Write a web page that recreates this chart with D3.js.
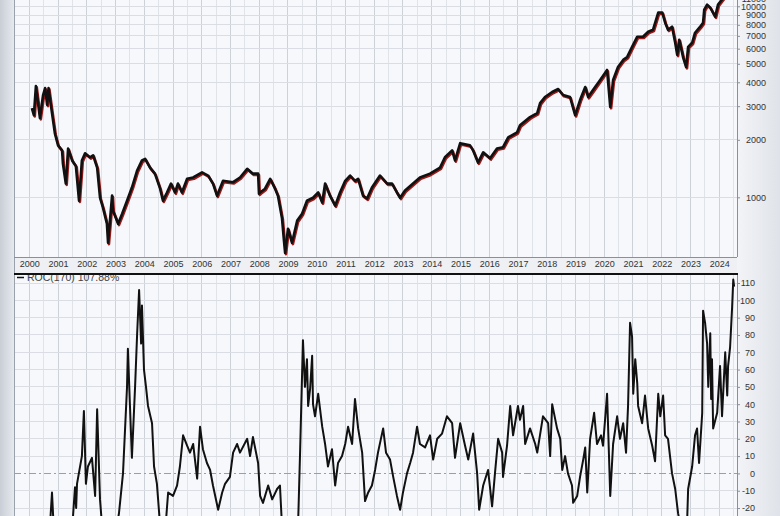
<!DOCTYPE html>
<html><head><meta charset="utf-8">
<script src="https://cdn.jsdelivr.net/npm/d3@7"></script>
<style>html,body{margin:0;padding:0;background:#fff;}svg{display:block;font-family:Arial,"Liberation Sans",sans-serif;}</style>
</head><body><svg id="c" width="780" height="516"></svg>
<script>
// ---- data ----
const priceDates = [2000.09,2000.16,2000.23,2000.37,2000.48,2000.55,2000.62,2000.67,2000.79,2000.89,2001.00,2001.14,2001.17,2001.27,2001.35,2001.49,2001.62,2001.73,2001.83,2001.94,2002.11,2002.22,2002.36,2002.46,2002.56,2002.70,2002.74,2002.88,2002.91,2003.09,2003.23,2003.40,2003.57,2003.75,2003.92,2004.03,2004.20,2004.37,2004.55,2004.65,2004.79,2004.93,2005.07,2005.17,2005.31,2005.49,2005.70,2006.01,2006.22,2006.39,2006.53,2006.74,2007.09,2007.33,2007.58,2007.78,2007.96,2007.99,2008.03,2008.20,2008.38,2008.55,2008.65,2008.79,2008.86,2008.90,2009.00,2009.14,2009.32,2009.49,2009.66,2009.87,2010.05,2010.19,2010.29,2010.46,2010.64,2010.81,2010.99,2011.16,2011.33,2011.44,2011.61,2011.75,2011.92,2012.20,2012.45,2012.62,2012.79,2012.90,2013.07,2013.35,2013.59,2013.94,2014.29,2014.46,2014.71,2014.81,2014.99,2015.33,2015.44,2015.61,2015.79,2016.03,2016.27,2016.48,2016.66,2016.97,2017.07,2017.42,2017.67,2017.77,2017.94,2018.19,2018.40,2018.57,2018.81,2018.92,2018.99,2019.16,2019.34,2019.44,2019.61,2019.86,2020.10,2020.21,2020.31,2020.48,2020.66,2020.80,2020.97,2021.15,2021.35,2021.53,2021.70,2021.88,2022.02,2022.12,2022.22,2022.36,2022.47,2022.54,2022.61,2022.75,2022.85,2022.92,2023.06,2023.16,2023.34,2023.44,2023.48,2023.58,2023.69,2023.86,2023.96,2024.10,2024.31,2024.49];
const priceValues = [2930,2690,3820,2600,3430,3730,3050,3730,2760,2160,1870,1760,1500,1180,1800,1560,1460,960,1560,1700,1620,1660,1430,995,885,727,578,1020,850,727,820,960,1125,1380,1560,1590,1430,1330,1110,960,1060,1180,1060,1180,1060,1250,1270,1350,1300,1180,1020,1220,1200,1270,1410,1330,1330,1045,1060,1110,1250,1110,1020,780,592,512,685,578,755,820,960,995,1060,940,1180,1020,905,1060,1220,1300,1220,1250,1020,985,1125,1300,1180,1180,1060,995,1085,1180,1270,1330,1430,1620,1760,1560,1920,1870,1760,1520,1720,1600,1800,1830,2060,2190,2380,2630,2760,3110,3350,3560,3690,3430,3350,2930,2690,3230,3780,3350,3640,4110,4640,2970,4110,4810,5240,5430,6130,6930,6930,7360,7540,9270,9270,8210,7540,7820,6440,5570,6680,5370,4810,6130,6440,7270,7820,8210,9610,10200,9840,8830,10200,10850,12000,13500];

const rocDates = [2000.72,2000.79,2000.86,2001.52,2001.59,2001.63,2001.66,2001.83,2001.90,2001.97,2002.04,2002.18,2002.29,2002.36,2002.46,2002.53,2002.81,2003.05,2003.12,2003.26,2003.40,2003.43,2003.50,2003.57,2003.68,2003.75,2003.82,2003.89,2003.92,2003.99,2004.06,2004.13,2004.27,2004.34,2004.44,2004.55,2004.72,2004.83,2005.00,2005.14,2005.24,2005.35,2005.49,2005.59,2005.70,2005.84,2005.94,2006.04,2006.18,2006.29,2006.39,2006.57,2006.71,2006.81,2006.98,2007.09,2007.23,2007.33,2007.58,2007.68,2007.78,2007.96,2008.03,2008.13,2008.31,2008.45,2008.62,2008.72,2008.79,2009.07,2009.35,2009.42,2009.52,2009.59,2009.66,2009.70,2009.77,2009.84,2009.87,2009.94,2010.05,2010.19,2010.29,2010.39,2010.53,2010.64,2010.74,2010.88,2010.99,2011.09,2011.23,2011.33,2011.44,2011.58,2011.68,2011.79,2011.92,2012.03,2012.13,2012.31,2012.41,2012.55,2012.66,2012.79,2012.90,2013.00,2013.14,2013.25,2013.35,2013.49,2013.59,2013.77,2013.94,2014.05,2014.19,2014.36,2014.53,2014.71,2014.81,2014.99,2015.16,2015.27,2015.44,2015.58,2015.65,2015.79,2015.96,2016.10,2016.20,2016.31,2016.45,2016.48,2016.62,2016.73,2016.83,2017.00,2017.07,2017.18,2017.25,2017.42,2017.60,2017.67,2017.87,2018.05,2018.12,2018.19,2018.36,2018.47,2018.54,2018.64,2018.74,2018.88,2018.92,2019.06,2019.16,2019.27,2019.34,2019.41,2019.51,2019.65,2019.75,2019.89,2019.96,2020.10,2020.21,2020.31,2020.45,2020.55,2020.66,2020.76,2020.83,2020.90,2020.97,2021.01,2021.08,2021.15,2021.18,2021.32,2021.42,2021.53,2021.67,2021.77,2021.88,2021.95,2022.05,2022.12,2022.22,2022.36,2022.47,2022.57,2022.71,2022.89,2022.92,2023.06,2023.16,2023.23,2023.30,2023.41,2023.44,2023.51,2023.58,2023.62,2023.69,2023.72,2023.75,2023.79,2023.93,2024.03,2024.10,2024.21,2024.28,2024.31,2024.38,2024.45,2024.49,2024.52];
const rocValues = [-30,-11,-35,-25,-8,-20,-6,10,36,-6,4,9,-13,37,-15,-30,-40,-30,-23,0,50,72,40,9,50,80,106,75,97,60,50,39,29,4,-6,-30,-35,-11,-13,-7,4,22,16,12,17,-3,27,14,6,2,-7,-21,-11,-6,-2,12,17,12,20,10,21,6,-13,-17,-7,-15,-9,-7,-30,-45,-30,12,77,50,66,39,49,68,40,33,46,27,17,4,14,-7,6,10,17,27,17,43,26,12,-16,-11,-7,2,12,26,12,8,-2,-13,-21,-11,0,6,12,27,17,15,22,8,20,23,33,29,9,29,16,8,23,0,-21,-7,2,-19,0,20,12,-2,16,39,22,39,31,39,17,26,17,12,33,29,10,40,26,20,2,10,0,-7,-17,-13,-2,8,15,-11,20,35,17,22,16,46,-13,17,33,20,29,12,39,87,79,46,66,52,39,29,45,26,16,7,46,33,45,22,20,0,-9,-23,-35,-25,-9,4,22,26,6,35,94,87,75,50,81,43,66,26,35,62,33,70,45,62,73,96,112,107.88];

const yearTicks = [2000,2001,2002,2003,2004,2005,2006,2007,2008,2009,2010,2011,2012,2013,2014,2015,2016,2017,2018,2019,2020,2021,2022,2023,2024];
const priceTicks = [1000,2000,3000,4000,5000,6000,7000,8000,9000,10000,11000];
const rocTicks = [-30,-20,-10,0,10,20,30,40,50,60,70,80,90,100,110];
const rocLabel = "ROC(170) 107.88%";

// ---- layout ----
const W = 780, H = 516;
const L = 14, R = 737;
const topY0 = 0, topY1 = 257;
const botY0 = 274, botY1 = 516;
const FONT = "Arial, Liberation Sans, sans-serif";

const svg = d3.select("#c");
const x = d3.scaleLinear().domain([1999.468, 2024.62]).range([L, R]);
const yP = d3.scaleLog().domain([487, 10786]).range([topY1, topY0]);
const yR = d3.scaleLinear().domain([-24.6, 115.2]).range([botY1, botY0]);

// backgrounds
const defs = svg.append("defs");
const lg = defs.append("linearGradient").attr("id","lstrip").attr("x1",0).attr("x2",1);
lg.append("stop").attr("offset",0).attr("stop-color","#c9ced6");
lg.append("stop").attr("offset",1).attr("stop-color","#e6e9ee");
const rg = defs.append("linearGradient").attr("id","rstrip").attr("x1",0).attr("x2",1);
rg.append("stop").attr("offset",0).attr("stop-color","#f3f4f7");
rg.append("stop").attr("offset",1).attr("stop-color","#dfe3e9");
defs.append("clipPath").attr("id","clipTop").append("rect").attr("x",L).attr("y",topY0-20).attr("width",R-L).attr("height",topY1-topY0+20);
defs.append("clipPath").attr("id","clipBot").append("rect").attr("x",L).attr("y",botY0).attr("width",R-L).attr("height",botY1-botY0+20);

svg.append("rect").attr("width",W).attr("height",H).attr("fill","#eef0f4");
svg.append("rect").attr("x",0).attr("y",0).attr("width",L).attr("height",H).attr("fill","url(#lstrip)");
svg.append("rect").attr("x",R).attr("y",0).attr("width",W-R).attr("height",H).attr("fill","url(#rstrip)");
svg.append("rect").attr("x",L).attr("y",topY0-5).attr("width",R-L).attr("height",topY1-topY0+5).attr("fill","#f6f8fb");
svg.append("rect").attr("x",L).attr("y",botY0).attr("width",R-L).attr("height",botY1-botY0+10).attr("fill","#f6f8fb");

// vertical grid (years + mid years)
function vgrid(y0, y1){
  const g = svg.append("g");
  yearTicks.forEach(yr => {
    g.append("line").attr("x1",x(yr)).attr("x2",x(yr)).attr("y1",y0).attr("y2",y1)
      .attr("stroke","#cdd1d8").attr("stroke-width",1).attr("shape-rendering","crispEdges");
    g.append("line").attr("x1",x(yr+0.5)).attr("x2",x(yr+0.5)).attr("y1",y0).attr("y2",y1)
      .attr("stroke","#e0e3e8").attr("stroke-width",1).attr("shape-rendering","crispEdges");
  });
  g.append("line").attr("x1",x(1999.5)).attr("x2",x(1999.5)).attr("y1",y0).attr("y2",y1)
      .attr("stroke","#e0e3e8").attr("shape-rendering","crispEdges");
}
vgrid(topY0, topY1);
vgrid(botY0, botY1);

// horizontal grid top
priceTicks.forEach(p => {
  svg.append("line").attr("x1",L).attr("x2",R).attr("y1",yP(p)).attr("y2",yP(p))
    .attr("stroke","#dadde3").attr("shape-rendering","crispEdges");
});
// horizontal grid bottom
rocTicks.forEach(v => {
  if (v === 0) return;
  svg.append("line").attr("x1",L).attr("x2",R).attr("y1",yR(v)).attr("y2",yR(v))
    .attr("stroke","#dadde3").attr("shape-rendering","crispEdges");
});
svg.append("line").attr("x1",L).attr("x2",R).attr("y1",yR(0)).attr("y2",yR(0))
  .attr("stroke","#9a9ea6").attr("stroke-dasharray","7,3,2,3").attr("shape-rendering","crispEdges");

// price series
const pdata = priceDates.map((d,i)=>[d, priceValues[i]]);
const pline = d3.line().x(d=>x(d[0])).y(d=>yP(d[1]));
const gTop = svg.append("g").attr("clip-path","url(#clipTop)");
gTop.append("path").datum(pdata).attr("d",pline).attr("fill","none")
  .attr("stroke","#a01818").attr("stroke-width",2.6).attr("transform","translate(0.9,1.3)").attr("stroke-linejoin","round");
gTop.append("path").datum(pdata).attr("d",pline).attr("fill","none")
  .attr("stroke","#111").attr("stroke-width",2.6).attr("stroke-linejoin","round");

// roc series
const rdata = rocDates.map((d,i)=>[d, rocValues[i]]);
const rline = d3.line().x(d=>x(d[0])).y(d=>yR(d[1]));
svg.append("g").attr("clip-path","url(#clipBot)").append("path").datum(rdata).attr("d",rline)
  .attr("fill","none").attr("stroke","#111").attr("stroke-width",2).attr("stroke-linejoin","round");

// legend (top is partly hidden by the panel's top border, as in the reference)
svg.append("line").attr("x1",17).attr("x2",24).attr("y1",277.5).attr("y2",277.5).attr("stroke","#111").attr("stroke-width",1.5);
svg.append("text").attr("x",27).attr("y",281).attr("font-size",10.5).attr("fill","#444").attr("font-family",FONT).text(rocLabel);

// borders
svg.append("line").attr("x1",L).attr("x2",L).attr("y1",0).attr("y2",H).attr("stroke","#9ba1aa").attr("shape-rendering","crispEdges");
svg.append("line").attr("x1",R).attr("x2",R).attr("y1",0).attr("y2",topY1).attr("stroke","#8a9099").attr("shape-rendering","crispEdges");
svg.append("line").attr("x1",R).attr("x2",R).attr("y1",botY0).attr("y2",H).attr("stroke","#8a9099").attr("shape-rendering","crispEdges");
svg.append("line").attr("x1",L).attr("x2",R).attr("y1",topY1).attr("y2",topY1).attr("stroke","#8a9099").attr("shape-rendering","crispEdges");
svg.append("line").attr("x1",L).attr("x2",R+1).attr("y1",botY0).attr("y2",botY0).attr("stroke","#111").attr("stroke-width",2.2);

// right axes
const axTop = d3.axisRight(yP).tickValues(priceTicks).tickFormat(d3.format("d")).tickSize(3);
const gAT = svg.append("g").attr("transform",`translate(${R},0)`).call(axTop);
gAT.select(".domain").remove();
gAT.selectAll("text").attr("text-anchor","end").attr("x",29).attr("font-size",9).attr("fill","#333").attr("font-family",FONT);
gAT.selectAll("line").attr("stroke","#8a9099");

const axBot = d3.axisRight(yR).tickValues(rocTicks.filter(v=>v>=-20)).tickFormat(d=>d).tickSize(3);
const gAB = svg.append("g").attr("transform",`translate(${R},0)`).call(axBot);
gAB.select(".domain").remove();
gAB.selectAll("text").attr("text-anchor","end").attr("x",18).attr("font-size",9).attr("fill","#333").attr("font-family",FONT);
gAB.selectAll("line").attr("stroke","#8a9099");

// date axis labels
const axX = d3.axisBottom(x).tickValues(yearTicks).tickFormat(d3.format("d")).tickSize(0).tickPadding(4);
const gX = svg.append("g").attr("transform",`translate(0,${topY1})`).call(axX);
gX.select(".domain").remove();
gX.selectAll("text").attr("font-size",9).attr("fill","#333").attr("font-family",FONT);
</script></body></html>
